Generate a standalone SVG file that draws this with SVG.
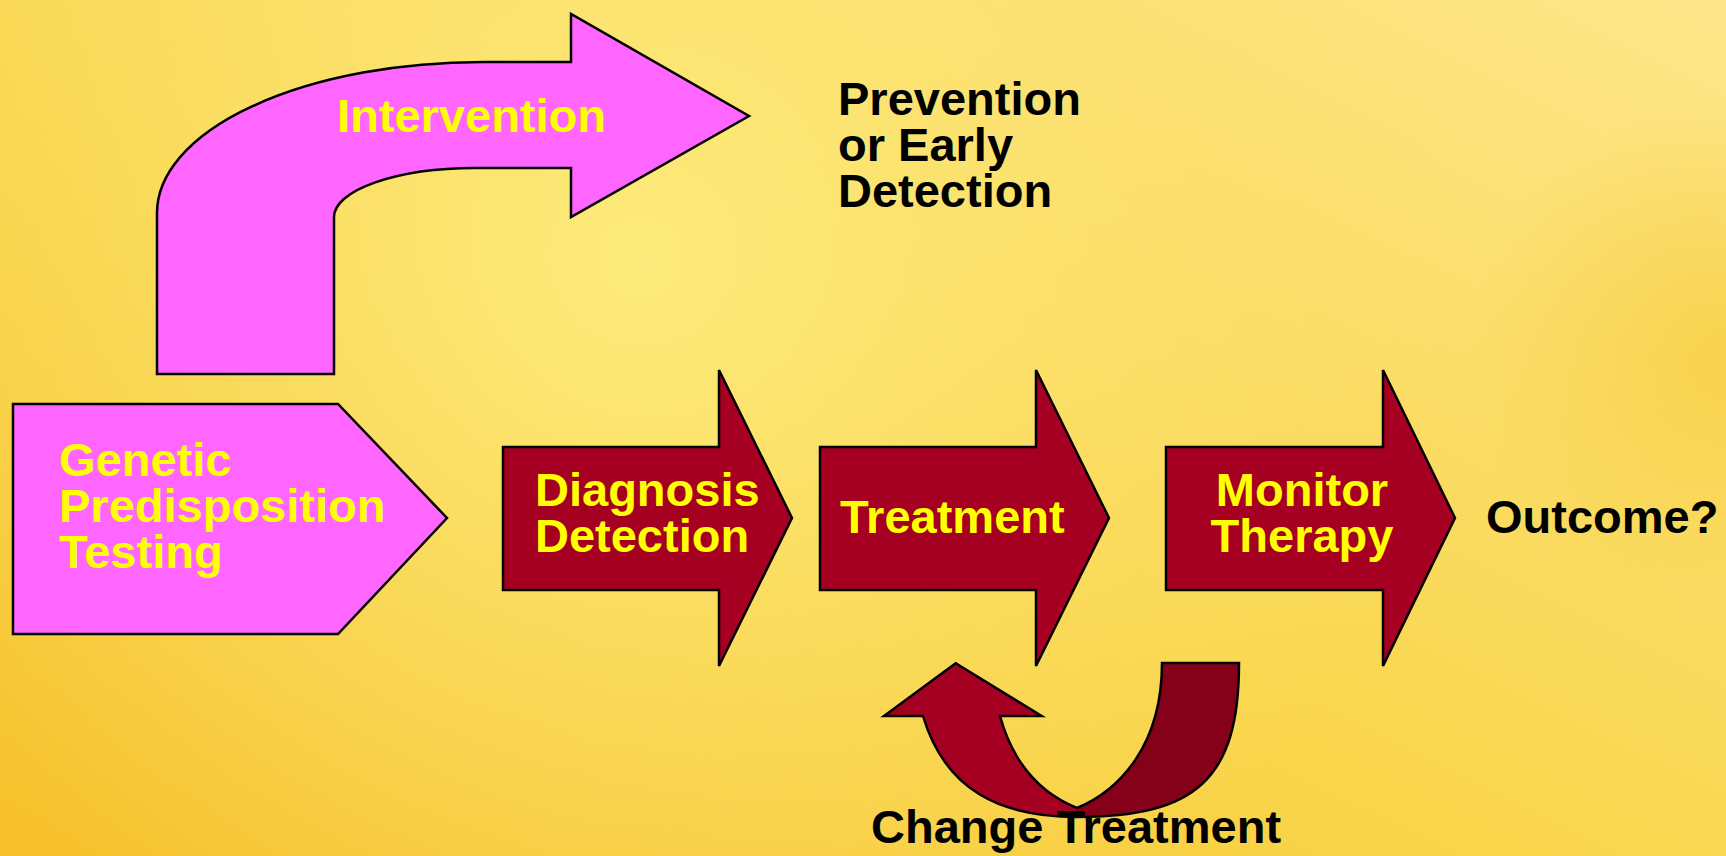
<svg xmlns="http://www.w3.org/2000/svg" width="1726" height="856" viewBox="0 0 1726 856">
  <defs>
    <linearGradient id="bgBase" x1="0" y1="1" x2="1" y2="0">
      <stop offset="0" stop-color="#F6C02A"/>
      <stop offset="0.45" stop-color="#F9D64C"/>
      <stop offset="1" stop-color="#FDE68A"/>
    </linearGradient>
    <radialGradient id="bgGlow" cx="640" cy="260" r="820" gradientUnits="userSpaceOnUse">
      <stop offset="0" stop-color="#FDEC7E" stop-opacity="0.95"/>
      <stop offset="0.55" stop-color="#FCE473" stop-opacity="0.45"/>
      <stop offset="1" stop-color="#FCE070" stop-opacity="0"/>
    </radialGradient>
    <radialGradient id="bgWarm" cx="1726" cy="360" r="260" gradientUnits="userSpaceOnUse">
      <stop offset="0" stop-color="#F7CC3C" stop-opacity="0.7"/>
      <stop offset="1" stop-color="#F7CC3C" stop-opacity="0"/>
    </radialGradient>
    <style>
      .pink { fill: #FF66FF; stroke: #000; stroke-width: 2.5; stroke-linejoin: miter; }
      .step { fill: #A50021; stroke: #000; stroke-width: 2.5; stroke-linejoin: miter; }
      .lbl { font-family: "Liberation Sans", Arial, sans-serif; font-weight: bold; font-size: 47px; }
      .yel { fill: #FFFF00; }
      .blk { fill: #000000; }
    </style>
  </defs>

  <!-- background -->
  <rect width="1726" height="856" fill="url(#bgBase)"/>
  <rect width="1726" height="856" fill="url(#bgGlow)"/>
  <rect width="1726" height="856" fill="url(#bgWarm)"/>

  <!-- connectors: bent intervention arrow and the change-treatment loop -->
  <g id="connectors">
    <g id="intervention">
      <path class="pink" d="M157,374 L157,213 A326,151 0 0 1 483,62 L571,62 L571,14 L749,116 L571,217 L571,168 L475,168 A141,49 0 0 0 334,217 L334,374 Z"/>
      <text class="lbl yel" x="337" y="132">Intervention</text>
    </g>
    <g id="change-loop">
      <!-- rising band with arrowhead -->
      <path fill="#A50021" d="M884,716 L955.7,663.3 L1041.7,716 L1000,716 C1015,770 1045,795 1077,808 L1077,817 C1000,817 945,790 923,716 Z"/>
      <!-- descending tail band -->
      <path fill="#850019" d="M1162,663 L1239,663 C1239,780 1195,817 1077,817 L1077,808 C1120,790 1162,745 1162,663 Z"/>
      <!-- outline -->
      <path fill="none" stroke="#000" stroke-width="2.5" stroke-linejoin="miter" d="M923,716 C945,790 1000,817 1077,817 C1195,817 1239,780 1239,663 L1162,663 C1162,745 1120,790 1077,808 C1045,795 1015,770 1000,716 L1041.7,716 L955.7,663.3 L884,716 Z"/>
    </g>
  </g>

  <g id="genetic-testing">
    <path class="pink" d="M13,404 L338,404 L447,518 L338,634 L13,634 Z"/>
    <text class="lbl yel" x="59" y="476">Genetic</text>
    <text class="lbl yel" x="59" y="522">Predisposition</text>
    <text class="lbl yel" x="59" y="568">Testing</text>
  </g>

  <g id="diagnosis">
    <path class="step" d="M503,447 L719,447 L719,370 L792,518 L719,666 L719,590 L503,590 Z"/>
    <text class="lbl yel" x="535" y="506">Diagnosis</text>
    <text class="lbl yel" x="535" y="552">Detection</text>
  </g>

  <g id="treatment">
    <path class="step" d="M820,447 L1036,447 L1036,370 L1109,518 L1036,666 L1036,590 L820,590 Z"/>
    <text class="lbl yel" x="840" y="533">Treatment</text>
  </g>

  <g id="monitor">
    <path class="step" d="M1166,447 L1383,447 L1383,370 L1455,518 L1383,666 L1383,590 L1166,590 Z"/>
    <text class="lbl yel" x="1302" y="506" text-anchor="middle">Monitor</text>
    <text class="lbl yel" x="1302" y="552" text-anchor="middle">Therapy</text>
  </g>

  <g id="prevention">
    <text class="lbl blk" x="838" y="115">Prevention</text>
    <text class="lbl blk" x="838" y="161">or Early</text>
    <text class="lbl blk" x="838" y="207">Detection</text>
  </g>

  <g id="outcome">
    <text class="lbl blk" x="1486" y="533">Outcome?</text>
  </g>

  <g id="change-treatment">
    <text class="lbl blk" x="871" y="843">Change Treatment</text>
  </g>
</svg>
